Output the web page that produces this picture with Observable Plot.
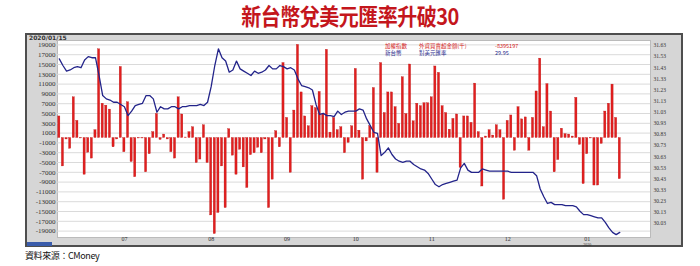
<!DOCTYPE html>
<html><head><meta charset="utf-8">
<script src="https://cdn.jsdelivr.net/npm/d3@7"></script>
<script src="https://cdn.jsdelivr.net/npm/@observablehq/plot@0.6"></script>
<style>
body{margin:0;width:700px;height:266px;position:relative;background:#fff;overflow:hidden;font-family:"Noto Sans CJK TC",sans-serif}
#title{position:absolute;left:0;top:2px;width:700px;text-align:center;font-weight:700;font-size:20px;line-height:28px;color:#c4161c;transform:scaleY(1.12);letter-spacing:-0.5px}
#panel{position:absolute;left:25px;top:33px;width:654px;height:210px;border:2px solid #4e4e4e;background:#d6d6d6}
#date{position:absolute;left:2px;top:0px;font:700 6px/6px "DejaVu Sans",sans-serif;color:#333}
.leg{position:absolute;font-size:5.5px;line-height:6px;white-space:nowrap}
#blue{position:absolute;left:0;top:207px;width:25px;height:4px;background:#3a5cab}
#src{position:absolute;left:25px;top:250px;font-size:9px;line-height:11px;color:#111;letter-spacing:-0.4px}
#chart svg{overflow:visible}
</style></head>
<body>
<div id="title">新台幣兌美元匯率升破30</div>
<div id="panel">
  <div id="date">2020/01/15</div>
  <div id="chart" style="position:absolute;left:0;top:0"></div>
  <div class="leg" style="left:358px;top:8px;color:#d42020">加權指數</div>
  <div class="leg" style="left:392px;top:8px;color:#d42020">外資買賣超金額(千)</div>
  <div class="leg" style="left:468px;top:8px;color:#d42020">-8395197</div>
  <div class="leg" style="left:358px;top:15px;color:#1f2a8c">新台幣</div>
  <div class="leg" style="left:392px;top:15px;color:#1f2a8c">對美元匯率</div>
  <div class="leg" style="left:468px;top:15px;color:#1f2a8c">29.95</div>
  <div id="blue"></div>
</div>
<div id="src">資料來源：CMoney</div>
<script>
// Foreign net buy/sell (left axis), one per trading day
const flows = [4400,-5800,-300,-2200,8300,3500,-100,-7500,-3000,-4200,
 1600,18100,7000,6600,5800,-1900,-300,14500,-2900,7300,
 -4900,-8000,-100,-100,-7000,-3300,1200,4900,-400,700,
 -300,-2900,-4200,8300,4800,100,1200,2200,-5100,-4400,
 2600,-5100,-15800,-19600,-15300,-5800,-14300,1800,-3600,-7500,
 -2400,-6000,-10200,-3500,-3100,-2000,-3100,-300,-14300,-8500,
 1400,-1900,15300,4100,-7100,5600,19000,9300,4400,2400,
 6500,6100,9400,4800,18000,1100,4100,1600,2200,-3100,
 -1000,2400,14100,1500,-8500,-700,2400,10200,-7100,15300,
 5100,9300,9300,6300,2900,12400,4900,15000,3400,7000,
 6500,7100,7100,8300,14600,13300,6500,5100,1700,3900,
 4800,-6100,4400,4400,3100,11100,1200,-9900,300,1600,
 500,2600,1600,-12600,3500,4600,-2600,6300,3800,4200,
 -2600,4100,9500,16200,2200,11000,5400,-7000,-4500,1900,
 800,700,300,8200,-1400,-9400,-3300,-100,-9700,-9700,
 -1200,5400,7000,10900,4100,-8400];
// TWD per USD (right axis)
const rates = [31.51,31.45,31.40,31.41,31.43,31.44,31.43,31.50,31.53,31.52,
 31.52,31.36,31.18,31.15,31.14,31.12,31.12,31.10,31.08,31.00,
 31.04,31.09,31.10,31.11,31.18,31.18,31.15,31.03,31.08,31.06,
 31.06,31.08,31.08,31.06,31.08,31.08,31.09,31.09,31.09,31.10,
 31.09,31.12,31.26,31.45,31.60,31.52,31.49,31.39,31.41,31.49,
 31.42,31.40,31.38,31.36,31.40,31.38,31.39,31.41,31.45,31.42,
 31.42,31.45,31.44,31.42,31.43,31.41,31.33,31.27,31.26,31.25,
 31.23,31.10,31.01,31.02,31.00,31.00,30.99,31.04,31.01,31.03,
 31.04,31.04,31.04,31.06,31.05,30.97,30.91,30.85,30.84,30.64,
 30.67,30.71,30.65,30.61,30.59,30.58,30.59,30.59,30.56,30.54,
 30.52,30.51,30.48,30.43,30.38,30.36,30.38,30.39,30.40,30.41,
 30.42,30.53,30.57,30.51,30.49,30.49,30.49,30.52,30.51,30.50,
 30.50,30.50,30.50,30.50,30.50,30.49,30.49,30.49,30.49,30.49,
 30.49,30.49,30.46,30.34,30.27,30.21,30.22,30.20,30.20,30.20,
 30.19,30.19,30.19,30.18,30.14,30.11,30.11,30.10,30.09,30.08,
 30.08,30.04,29.99,29.95,29.93,29.95];
const leftTicks = [19000,17000,15000,13000,11000,9000,7000,5000,3000,1000,-1000,-3000,-5000,-7000,-9000,-11000,-13000,-15000,-17000,-19000];
const rightTicks = [31.63,31.53,31.43,31.33,31.23,31.13,31.03,30.93,30.83,30.73,30.63,30.53,30.43,30.33,30.23,30.13,30.03];
const monthPos = [19,43,64,83,104,125,147];
const monthLabels = ["07","08","09","10","11","12","01"];
const yearLabel = "2020";

const idx = flows.map((d,i)=>i+1);
const rateScale = d3.scaleLinear().domain([30.03,31.63]).range([-17450,18880]);
const monthMap = new Map(monthPos.map((p,i)=>[p,monthLabels[i]]));

const chart = Plot.plot({
  width: 654, height: 210,
  marginLeft: 30, marginRight: 31, marginTop: 5, marginBottom: 8,
  style: {fontFamily: "Liberation Serif", fontSize: "7px", background: "transparent", color: "#333", overflow: "visible"},
  x: {domain: [0.5, 164.5]},
  y: {domain: [-20306, 19898]},
  marks: [
    Plot.frame({fill: "white", stroke: "#bbb"}),
    Plot.gridY(leftTicks, {stroke: "#dadada", strokeOpacity: 1}),
    Plot.axisY(leftTicks, {anchor: "left", tickSize: 0, tickPadding: 2, fontSize: 7, tickFormat: d => String(d)}),
    Plot.axisY(rightTicks.map(r => rateScale(r)), {anchor: "right", tickSize: 0, tickPadding: 3, fontSize: 5.5, tickFormat: v => rateScale.invert(v).toFixed(2)}),
    Plot.axisX(monthPos, {tickSize: 0, tickPadding: -0.5, fontSize: 6, tickFormat: d => monthMap.get(d)}),
    Plot.text([yearLabel], {x: () => monthPos[monthPos.length-1], frameAnchor: "bottom", dy: 8.5, fontSize: 4, text: d => d}),
    Plot.rect(idx, {x1: i => i - 0.3, x2: i => i + 0.3, y1: () => 0, y2: i => flows[i-1], fill: "#e11f1f", stroke: "#b51515", strokeWidth: 0.3}),
    Plot.line(idx, {x: i => i, y: i => rateScale(rates[i-1]), stroke: "#23248a", strokeWidth: 1.3})
  ]
});
document.getElementById("chart").appendChild(chart);
</script>
</body></html>
